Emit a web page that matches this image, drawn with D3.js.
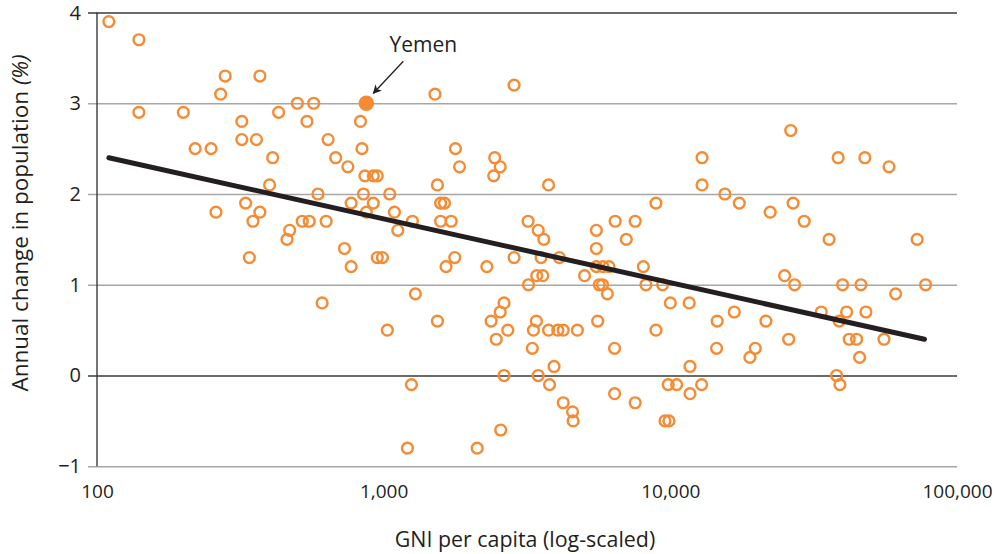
<!DOCTYPE html>
<html>
<head>
<meta charset="utf-8">
<script src="https://cdn.jsdelivr.net/npm/d3@7/dist/d3.min.js"></script>
<style>
  html, body { margin: 0; padding: 0; background: #fff; }
  svg { display: block; font-family: "Open Sans", "Noto Sans", sans-serif; }
</style>
</head>
<body>
<svg id="chart" width="997" height="554"></svg>
<script>
// GNI per capita (US$) and annual population change (%) by country
const gni = [
  110, 140, 140, 200, 220, 250, 260, 270, 280, 320, 320, 360, 370, 330, 350, 370,
  410, 400, 430, 460, 470, 500, 570, 540, 520, 550, 590, 630, 640, 680, 730,
  830, 840, 750, 860, 920, 950, 850, 1050, 770, 920, 870, 1090, 1260, 1120,
  1510, 2850, 1780, 1840, 2440, 2550, 2420, 1540, 3760, 1580, 1630, 1580, 1720,
  3190, 3460, 3620, 5520, 5520, 6420, 7540, 7020, 8910, 12900, 12900, 15500,
  17400, 22300, 26800, 29300, 35800, 72600, 26300, 38500, 47700, 57900,
  340, 610, 770, 950, 990, 1290, 1030, 1540, 1250, 1210, 1650, 1770, 2290, 2850,
  3540, 4100, 3420, 3590, 3200, 5020, 5520, 5820, 6110, 8050, 8220, 5650, 5800,
  6030, 2370, 2550, 2630, 2710, 2470, 3410, 3330, 3760, 4050, 4230, 4740, 5580,
  3300, 6390, 8910, 2630, 3460, 3930, 3790, 4230, 4560, 4580, 2560, 2120, 6390,
  7540, 9400, 10000, 11640, 14570, 16710, 14500, 19780, 18950, 21550, 25040,
  27140, 25870, 33600, 38820, 41200, 39900, 46220, 48120, 42070, 44640, 45740,
  55620, 61080, 77700, 11710, 9830, 10520, 12860, 11710, 38020, 39050, 9580, 9890
];
const popChange = [
  3.9, 3.7, 2.9, 2.9, 2.5, 2.5, 1.8, 3.1, 3.3, 2.8, 2.6, 2.6, 3.3, 1.9, 1.7, 1.8,
  2.4, 2.1, 2.9, 1.5, 1.6, 3.0, 3.0, 2.8, 1.7, 1.7, 2.0, 1.7, 2.6, 2.4, 1.4,
  2.8, 2.5, 2.3, 2.2, 2.2, 2.2, 2.0, 2.0, 1.9, 1.9, 1.8, 1.8, 1.7, 1.6,
  3.1, 3.2, 2.5, 2.3, 2.4, 2.3, 2.2, 2.1, 2.1, 1.9, 1.9, 1.7, 1.7,
  1.7, 1.6, 1.5, 1.6, 1.4, 1.7, 1.7, 1.5, 1.9, 2.4, 2.1, 2.0,
  1.9, 1.8, 1.9, 1.7, 1.5, 1.5, 2.7, 2.4, 2.4, 2.3,
  1.3, 0.8, 1.2, 1.3, 1.3, 0.9, 0.5, 0.6, -0.1, -0.8, 1.2, 1.3, 1.2, 1.3,
  1.3, 1.3, 1.1, 1.1, 1.0, 1.1, 1.2, 1.2, 1.2, 1.2, 1.0, 1.0, 1.0,
  0.9, 0.6, 0.7, 0.8, 0.5, 0.4, 0.6, 0.5, 0.5, 0.5, 0.5, 0.5, 0.6,
  0.3, 0.3, 0.5, 0.0, 0.0, 0.1, -0.1, -0.3, -0.4, -0.5, -0.6, -0.8, -0.2,
  -0.3, 1.0, 0.8, 0.8, 0.6, 0.7, 0.3, 0.3, 0.2, 0.6, 1.1,
  1.0, 0.4, 0.7, 0.6, 0.7, 1.0, 1.0, 0.7, 0.4, 0.4, 0.2,
  0.4, 0.9, 1.0, 0.1, -0.1, -0.1, -0.1, -0.2, 0.0, -0.1, -0.5, -0.5
];

// Highlighted country
const highlightName = "Yemen";
const highlightGni = 870;
const highlightChange = 3.0;

// Fitted trend line end points
const trendGni = [110, 77000];
const trendChange = [2.4, 0.4];

// Axis ticks
const xTicks = [100, 1000, 10000, 100000];
const yTicks = [-1, 0, 1, 2, 3, 4];

const orange = "#f68b33";
const ink = "#231f20";

const svg = d3.select("#chart");
const plotLeft = 97, plotRight = 957, plotTop = 12.5, plotBottom = 466.3;

const x = d3.scaleLog().domain([100, 100000]).range([plotLeft, plotRight]);
const y = d3.scaleLinear().domain([-1, 4]).range([plotBottom, plotTop]);

// Horizontal grid with ticks on the left
const yAxis = d3.axisLeft(y)
  .tickValues(yTicks)
  .tickSize(plotRight - plotLeft + 9)
  .tickPadding(7)
  .tickFormat(d3.format("d"));

const gy = svg.append("g")
  .attr("transform", `translate(${plotRight},0)`)
  .call(yAxis);
gy.select(".domain").remove();
gy.selectAll(".tick line")
  .attr("stroke", d => (d === 0 || d === 4) ? "#3a3a3a" : "#a6a6a6")
  .attr("stroke-width", d => (d === 0 || d === 4) ? 1.4 : 1.5);
gy.selectAll(".tick text")
  .attr("fill", ink)
  .attr("font-size", 20)
  .attr("font-family", "Open Sans, sans-serif")
  .text(d => d < 0 ? "\u2212" + Math.abs(d) : d);
// keep the top label inside the canvas
gy.selectAll(".tick text").filter(d => d === 4).attr("dy", "0.36em");

// Vertical axis line
svg.append("line")
  .attr("x1", plotLeft).attr("x2", plotLeft)
  .attr("y1", y(4)).attr("y2", y(-1))
  .attr("stroke", "#3a3a3a").attr("stroke-width", 1.4);

// X axis labels
const xAxis = d3.axisBottom(x)
  .tickValues(xTicks)
  .tickSize(0)
  .tickPadding(18)
  .tickFormat(d3.format(","));
const gx = svg.append("g")
  .attr("transform", `translate(0,${plotBottom})`)
  .call(xAxis);
gx.select(".domain").remove();
gx.selectAll(".tick text")
  .attr("fill", ink)
  .attr("font-size", 19)
  .attr("font-family", "Open Sans, sans-serif");

// Axis titles
svg.append("text")
  .attr("x", 525).attr("y", 547)
  .attr("text-anchor", "middle")
  .attr("font-size", 21.4)
  .attr("fill", ink)
  .text("GNI per capita (log-scaled)");

const yTitle = svg.append("text")
  .attr("transform", "translate(28,223) rotate(-90)")
  .attr("text-anchor", "middle")
  .attr("font-size", 22.5)
  .attr("fill", ink);
yTitle.append("tspan").text("Annual change in population ");
yTitle.append("tspan").attr("font-style", "italic").text("(%)");

// Country points
const pts = d3.range(gni.length).map(i => ({ g: gni[i], c: popChange[i] }));
svg.append("g")
  .selectAll("circle")
  .data(pts)
  .join("circle")
  .attr("cx", d => x(d.g))
  .attr("cy", d => y(d.c))
  .attr("r", 5.4)
  .attr("fill", "none")
  .attr("stroke", orange)
  .attr("stroke-width", 2.4);

// Trend line
svg.append("line")
  .attr("x1", x(trendGni[0])).attr("y1", y(trendChange[0]))
  .attr("x2", x(trendGni[1])).attr("y2", y(trendChange[1]))
  .attr("stroke", ink)
  .attr("stroke-width", 5)
  .attr("stroke-linecap", "round");

// Highlighted country with callout
const hx = x(highlightGni), hy = y(highlightChange);
svg.append("circle")
  .attr("cx", hx).attr("cy", hy).attr("r", 7.8)
  .attr("fill", orange);

svg.append("defs").append("marker")
  .attr("id", "arrowhead")
  .attr("viewBox", "0 0 10 10")
  .attr("refX", 9).attr("refY", 5)
  .attr("markerWidth", 9).attr("markerHeight", 9)
  .attr("markerUnits", "userSpaceOnUse")
  .attr("orient", "auto")
  .append("path")
  .attr("d", "M0,0 L10,5 L0,10 L3,5 Z")
  .attr("fill", ink);

svg.append("line")
  .attr("x1", hx + 37).attr("y1", hy - 42)
  .attr("x2", hx + 7).attr("y2", hy - 10)
  .attr("stroke", ink)
  .attr("stroke-width", 1.3)
  .attr("marker-end", "url(#arrowhead)");

svg.append("text")
  .attr("x", hx + 57).attr("y", hy - 51)
  .attr("text-anchor", "middle")
  .attr("font-size", 21)
  .attr("fill", ink)
  .text(highlightName);
</script>
</body>
</html>
